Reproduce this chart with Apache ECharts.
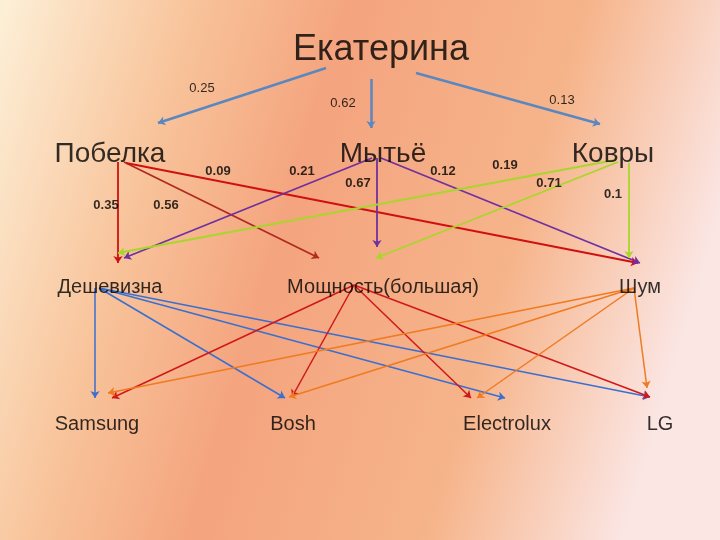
<!DOCTYPE html>
<html>
<head>
<meta charset="utf-8">
<script src="https://cdn.jsdelivr.net/npm/echarts@6/dist/echarts.min.js"></script>
<style>
  html, body { margin: 0; padding: 0; }
  #chart { width: 720px; height: 540px; }
</style>
</head>
<body>
<div id="chart"></div>
<script>
// node labels: [text, x, y, fontSize]
const nodes = [
  ['Екатерина', 381, 50, 36],
  ['Побелка', 110, 154, 28],
  ['Мытьё', 383, 154, 28],
  ['Ковры', 613, 154, 28],
  ['Дешевизна', 110, 287, 20],
  ['Мощность(большая)', 383, 287, 20],
  ['Шум', 640, 287, 20],
  ['Samsung', 97, 424, 20],
  ['Bosh', 293, 424, 20],
  ['Electrolux', 507, 424, 20],
  ['LG', 660, 424, 20]
];

// weight labels: [text, x, y, bold]
const weights = [
  ['0.25', 202, 88, 0], ['0.62', 343, 103, 0], ['0.13', 562, 100, 0],
  ['0.35', 106, 205, 1], ['0.56', 166, 205, 1], ['0.09', 218, 171, 1],
  ['0.21', 302, 171, 1], ['0.67', 358, 183, 1], ['0.12', 443, 171, 1],
  ['0.19', 505, 165, 1], ['0.71', 549, 183, 1], ['0.1', 613, 194, 1]
];

// edges: [x1, y1, x2, y2, colour]
const topEdges = [
  [326, 68, 158, 123, '#5a87c0'],
  [371, 79, 371, 128, '#5a87c0'],
  [416, 73, 600, 124, '#5a87c0']
];
const criteriaEdges = [
  [118, 162, 118, 263, '#d01010'],
  [124, 162, 319, 258, '#b02a20'],
  [126, 163, 638, 263, '#d01010'],
  [372, 158, 124, 258, '#7030a0'],
  [377, 158, 377, 247, '#7030a0'],
  [381, 158, 640, 263, '#7030a0'],
  [615, 160, 118, 253, '#a8d62c'],
  [618, 162, 376, 258, '#a8d62c'],
  [629, 163, 629, 258, '#a8d62c']
];
const brandEdges = [
  [95, 288, 95, 398, '#3a6fd0'],
  [99, 288, 285, 398, '#3a6fd0'],
  [99, 288, 505, 398, '#3a6fd0'],
  [99, 288, 650, 397, '#3a6fd0'],
  [354, 285, 112, 398, '#d01818'],
  [354, 285, 292, 397, '#d01818'],
  [354, 285, 471, 398, '#d01818'],
  [354, 285, 650, 397, '#d01818'],
  [634, 288, 108, 393, '#f07a20'],
  [634, 288, 289, 397, '#f07a20'],
  [634, 288, 477, 398, '#f07a20'],
  [634, 288, 647, 388, '#f07a20']
];

function linhes(edges, width) {
  return {
    type: 'lines',
    coordinateSystem: 'cartesian2d',
    symbol: ['none', 'arrow'],
    symbolSize: 7,
    silent: true,
    data: edges.map((e) => ({
      coords: [[e[0], e[1]], [e[2], e[3]]],
      lineStyle: { color: e[4], width: width, opacity: 1 }
    }))
  };
}

function textos(items, mapper) {
  return {
    type: 'scatter',
    symbolSize: 0,
    silent: true,
    data: items.map(mapper)
  };
}

const chart = echarts.init(document.getElementById('chart'));
chart.setOption({
  animation: false,
  backgroundColor: {
    type: 'linear', x: 0, y: 0, x2: 1, y2: 0.4,
    colorStops: [
      { offset: 0, color: '#fdf0d8' },
      { offset: 0.25, color: '#f8c39a' },
      { offset: 0.45, color: '#f4a47e' },
      { offset: 0.75, color: '#f6b48a' },
      { offset: 1, color: '#fbe6e4' }
    ]
  },
  grid: { left: 0, right: 0, top: 0, bottom: 0 },
  xAxis: { type: 'value', min: 0, max: 720, show: false },
  yAxis: { type: 'value', min: 0, max: 540, inverse: true, show: false },
  series: [
    linhes(topEdges, 2.5),
    linhes(criteriaEdges, 1.8),
    linhes(brandEdges, 1.5),
    textos(nodes, (n) => ({
      value: [n[1], n[2]],
      label: {
        show: true, position: 'inside', formatter: n[0],
        fontFamily: 'Liberation Sans', fontSize: n[3], color: '#000',
        textBorderWidth: 0
      }
    })),
    textos(weights, (w) => ({
      value: [w[1], w[2]],
      label: {
        show: true, position: 'inside', formatter: w[0],
        fontFamily: 'Liberation Sans', fontSize: 13,
        fontWeight: w[3] ? 'bold' : 'normal', color: '#000',
        textBorderWidth: 0
      }
    }))
  ]
});
</script>
</body>
</html>
